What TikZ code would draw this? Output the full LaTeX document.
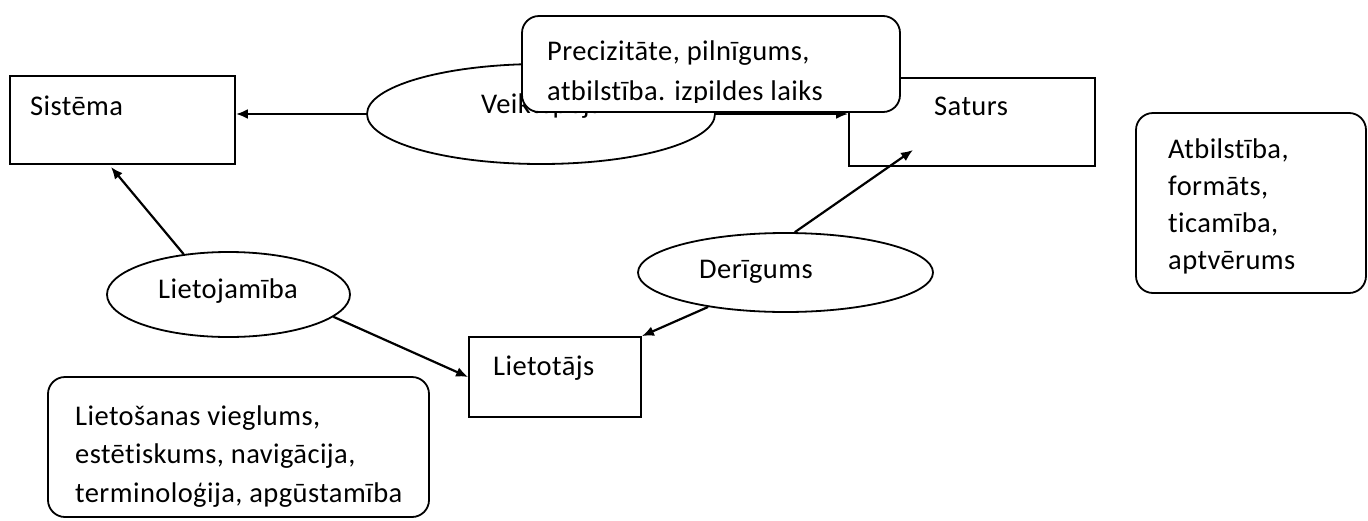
\documentclass[tikz,border=0pt]{standalone}
\usepackage{fontspec}
\setmainfont[LetterSpace=1.5,RawFeature={-liga;-dlig}]{Carlito}
\usetikzlibrary{shapes.geometric,arrows.meta}
\begin{document}
\begin{tikzpicture}[x=1pt,y=-1pt,
  txt/.style={anchor=base west,inner sep=0pt,font=\fontsize{28.5}{34}\selectfont},
  rect/.style={draw,line width=1.8pt,fill=white,rectangle,inner sep=0pt},
  rbox/.style={rect,rounded corners=17pt},
  oval/.style={draw,line width=1.8pt,fill=white,ellipse,inner sep=0pt},
  arr/.style={line width=2.2pt,-{Latex[length=12pt,width=10pt]}}]
\useasboundingbox (0,0) rectangle (1368,520);
% shapes
\node[rect,minimum width=225,minimum height=88] (sis) at (122.5,120) {};
\node[rect,minimum width=246,minimum height=88] (sat) at (972,122) {};
\node[oval,minimum width=348,minimum height=100] (veik) at (541,114) {};
\node[oval,minimum width=243,minimum height=85] (liet) at (228.5,294.5) {};
\node[oval,minimum width=295,minimum height=79] (der) at (785.5,272.5) {};
\node[rect,minimum width=172,minimum height=80] (lto) at (555,377) {};
% connectors
\coordinate (sisin) at (111,167);
\coordinate (satin) at (913,150);
\draw[arr] (veik.west) -- (veik.west -| sis.east);
\draw[arr] (veik.east) -- (veik.east -| sat.west);
\draw[arr] (liet.138) -- (sisin);
\draw[arr] (liet.-12) -- (lto.west);
\draw[arr] (der.204) -- (lto.north east);
\draw[arr] (der.77) -- (satin);
% texts of shapes
\node[txt] (tsis) at (30,115) {Sistēma};
\node[txt] (tsat) at (934,115) {Saturs};
\node[txt] (tveik) at (481,113) {Veiktspēja};
\node[txt] (tliet) at (158,298) {Lietojamība};
\node[txt] (tder) at (699,278) {Derīgums};
\node[txt] (tlto) at (493,375) {Lietotājs};
% callout boxes
\node[rbox,minimum width=378,minimum height=96] (prec) at (711,64) {};
\node[txt] (p1) at (547,60) {Precizitāte, pilnīgums,};
\begin{scope}
\clip (522,16) rectangle (900,102);
\node[txt] (p2) at (547,100) {atbilstība. izpildes laiks};
\end{scope}
\node[rbox,minimum width=230,minimum height=180] (atb) at (1251,203) {};
\node[txt] (a1) at (1168,158) {Atbilstība,};
\node[txt] (a2) at (1168,195) {formāts,};
\node[txt] (a3) at (1168,232) {ticamība,};
\node[txt] (a4) at (1168,269) {aptvērums};
\node[rbox,minimum width=381,minimum height=140] (lie) at (238.5,447) {};
\node[txt] (l1) at (75,425) {Lietošanas vieglums,};
\node[txt] (l2) at (75,463) {estētiskums, navigācija,};
\node[txt] (l3) at (75,502) {terminoloģija, apgūstamība};
\end{tikzpicture}
\end{document}
